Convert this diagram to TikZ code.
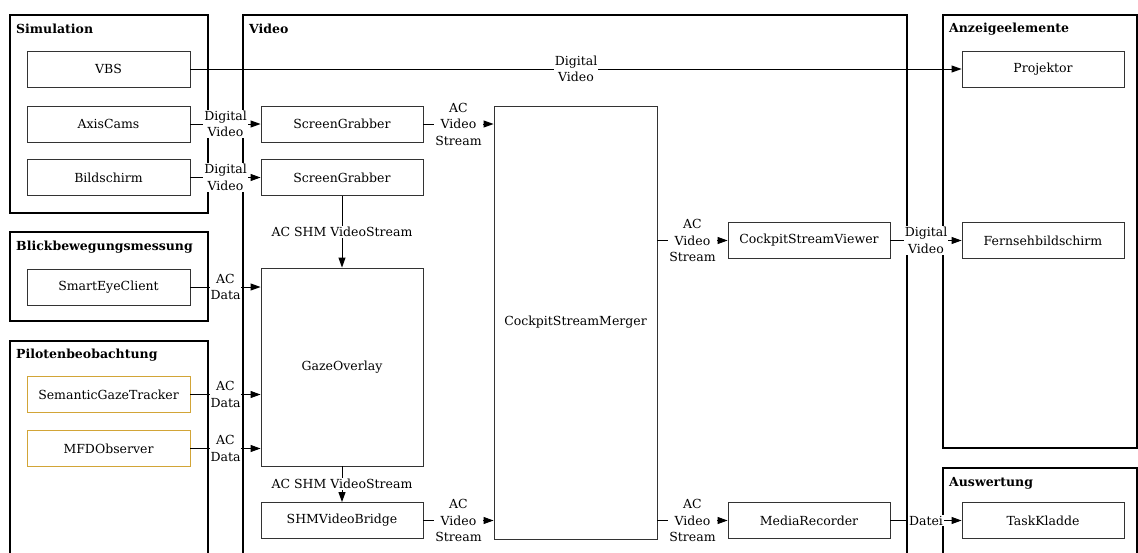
\documentclass[tikz,border=0pt]{standalone}
\usepackage{fontspec}
\setmainfont{DejaVu Serif}
\usetikzlibrary{arrows.meta}
\definecolor{gold}{RGB}{210,165,55}

\begin{document}
\begin{tikzpicture}[x=1pt,y=-1pt,
  txt/.style={font=\fontsize{12.5}{16.5}\selectfont},
  comp/.style={draw=black!80, line width=0.9pt, fill=white, inner sep=0pt,
    minimum width=163pt, minimum height=36pt, txt},
  obs/.style={comp, draw=gold},
  group/.style={draw, line width=1.8pt},
  gtitle/.style={anchor=west, inner sep=0pt, font=\bfseries\fontsize{12.5}{15}\selectfont},
  flow/.style={line width=0.9pt, -{Triangle[length=10pt,width=7pt]}},
  lab/.style={fill=white, inner sep=1pt, align=center, txt},
]
\useasboundingbox (0,0) rectangle (1138,552);
\begin{scope}
\clip (0,0) rectangle (1138,552);

% subsystem frames
\draw[group] (10,15) rectangle (208,213);
\draw[group] (10,232) rectangle (208,321);
\draw[group] (10,341) rectangle (208,600);
\draw[group] (243,15) rectangle (907,600);
\draw[group] (943,15) rectangle (1137,448);
\draw[group] (943,468) rectangle (1137,600);

\node[gtitle] (tsim) at (16,29) {Simulation};
\node[gtitle] (tblick) at (16,247) {Blickbewegungsmessung};
\node[gtitle] (tpilot) at (16,355) {Pilotenbeobachtung};
\node[gtitle] (tvideo) at (249,29) {Video};
\node[gtitle] (tanz) at (949,29) {Anzeigeelemente};
\node[gtitle] (tausw) at (949,483) {Auswertung};

% components
\node[comp] (vbs) at (108.5,69) {VBS};
\node[comp] (axis) at (108.5,124) {AxisCams};
\node[comp] (bild) at (108.5,177.5) {Bildschirm};
\node[comp] (smart) at (108.5,287) {SmartEyeClient};
\node[obs] (sgt) at (108.5,394.5) {SemanticGazeTracker};
\node[obs] (mfd) at (108.5,448.5) {MFDObserver};

\node[comp, minimum width=162pt] (sg1) at (342,124) {ScreenGrabber};
\node[comp, minimum width=162pt] (sg2) at (342,177.5) {ScreenGrabber};
\node[comp, minimum width=162pt, minimum height=198pt] (gaze) at (342,367) {GazeOverlay};
\node[comp, minimum width=162pt] (bridge) at (342,520.5) {SHMVideoBridge};
\node[comp, minimum height=433pt] (merger) at (575.5,322.5) {CockpitStreamMerger};
\node[comp, minimum width=162pt] (viewer) at (809,240.5) {CockpitStreamViewer};
\node[comp, minimum width=162pt] (rec) at (809,520.5) {MediaRecorder};

\node[comp, minimum width=162pt] (proj) at (1043,69) {Projektor};
\node[comp, minimum width=162pt] (tv) at (1043,240.5) {Fernsehbildschirm};
\node[comp, minimum width=162pt] (task) at (1043,520.5) {TaskKladde};

% data flows
\draw[flow] (vbs.east) -- node[lab] {Digital\\Video} (proj.west);
\draw[flow] (axis.east) -- node[lab] {Digital\\Video} (sg1.west);
\draw[flow] (bild.east) -- node[lab] {Digital\\Video} (sg2.west);
\draw[flow] (sg1.east) -- node[lab] {AC\\Video\\Stream} (sg1.east -| merger.west);
\draw[flow] (sg2.south) -- node[lab] {AC SHM VideoStream} (gaze.north);
\draw[flow] (smart.east) -- node[lab] {AC\\Data} (smart.east -| gaze.west);
\draw[flow] (sgt.east) -- node[lab] {AC\\Data} (sgt.east -| gaze.west);
\draw[flow] (mfd.east) -- node[lab] {AC\\Data} (mfd.east -| gaze.west);
\draw[flow] (gaze.south) -- node[lab] {AC SHM VideoStream} (bridge.north);
\draw[flow] (bridge.east) -- node[lab] {AC\\Video\\Stream} (bridge.east -| merger.west);
\draw[flow] (viewer.west -| merger.east) -- node[lab] {AC\\Video\\Stream} (viewer.west);
\draw[flow] (rec.west -| merger.east) -- node[lab] {AC\\Video\\Stream} (rec.west);
\draw[flow] (viewer.east) -- node[lab] {Digital\\Video} (tv.west);
\draw[flow] (rec.east) -- node[lab] {Datei} (task.west);
\end{scope}
\end{tikzpicture}
\end{document}
